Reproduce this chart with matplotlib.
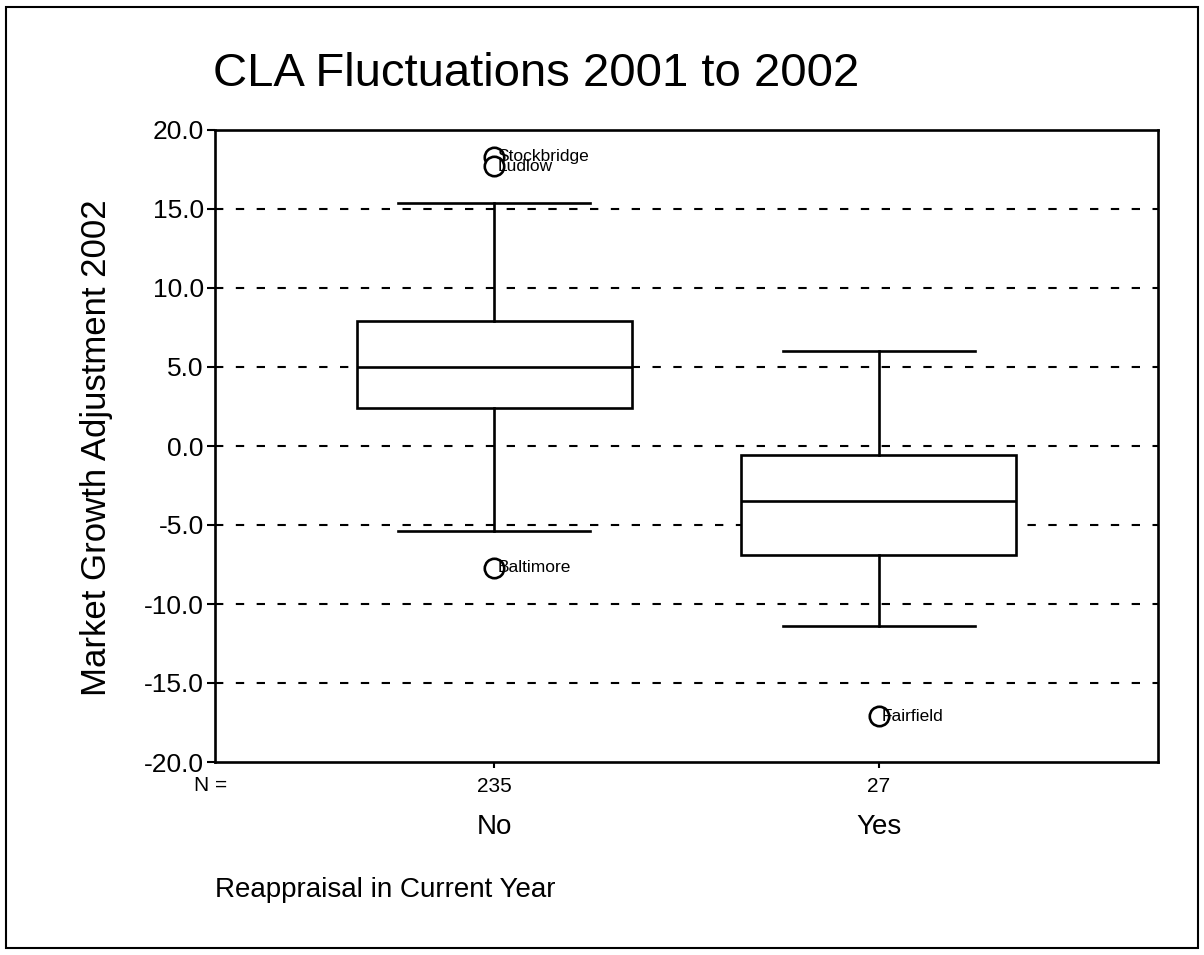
import matplotlib
matplotlib.use('Agg')
import matplotlib.pyplot as plt
from matplotlib.patches import Rectangle
from matplotlib import transforms

plt.rcParams['font.family'] = ['Liberation Sans', 'DejaVu Sans']

# Data
groups = ['No', 'Yes']
counts = [235, 27]
q1 = [2.4, -6.9]
medians = [5.0, -3.5]
q3 = [7.9, -0.6]
whisker_low = [-5.4, -11.4]
whisker_high = [15.4, 6.0]
outlier_names = [['Stockbridge', 'Ludlow', 'Baltimore'], ['Fairfield']]
outlier_values = [[18.3, 17.7, -7.7], [-17.1]]

yticks = [20.0, 15.0, 10.0, 5.0, 0.0, -5.0, -10.0, -15.0, -20.0]

fig = plt.figure(figsize=(12.04, 9.55), dpi=100)
ax = fig.add_axes([215 / 1204, 1 - 762 / 955, 943 / 1204, 632 / 955])

# Outer frame round the whole figure
fig.patches.append(Rectangle((6 / 1204, 7 / 955), 1192 / 1204, 941 / 955,
                             transform=fig.transFigure, fill=False,
                             edgecolor='black', linewidth=1.5))

positions = [1, 2]
stats = []
for i in range(len(groups)):
    stats.append({'med': medians[i], 'q1': q1[i], 'q3': q3[i],
                  'whislo': whisker_low[i], 'whishi': whisker_high[i],
                  'fliers': [], 'label': groups[i]})

lw = 1.9
ax.bxp(stats, positions=positions, widths=0.715, capwidths=0.5,
       patch_artist=True, showfliers=False,
       boxprops=dict(facecolor='white', edgecolor='black', linewidth=lw),
       medianprops=dict(color='black', linewidth=lw),
       whiskerprops=dict(color='black', linewidth=lw),
       capprops=dict(color='black', linewidth=lw), zorder=3)

# Outliers with their labels (Stockbridge and Ludlow overlap as in the original)
for i in range(len(groups)):
    for name, val in zip(outlier_names[i], outlier_values[i]):
        ax.plot(positions[i], val, marker='o', markersize=14, mfc='white',
                mec='black', mew=1.9, zorder=4, clip_on=False)
        ax.annotate(name, (positions[i], val), xytext=(2, 0),
                    textcoords='offset points', ha='left', va='center',
                    fontsize=12.5, zorder=5)

ax.set_xlim(0.273, 2.727)
ax.set_ylim(-20, 20)

# Dashed reference lines
for y in yticks[1:-1]:
    ax.axhline(y, color='black', linewidth=1.5, linestyle=(0, (4, 6)), zorder=1)

ax.set_yticks(yticks)
ax.set_yticklabels(['%.1f' % v for v in yticks], fontsize=19)
ax.tick_params(axis='y', length=6, width=1.5, pad=2)

ax.set_xticks(positions)
ax.set_xticklabels([str(c) for c in counts], fontsize=15)
ax.tick_params(axis='x', length=4, width=1.5, pad=7)

for side in ['left', 'right', 'top', 'bottom']:
    ax.spines[side].set_linewidth(1.9)

trans = transforms.blended_transform_factory(ax.transData, fig.transFigure)
for pos, g in zip(positions, groups):
    ax.text(pos, 1 - 827 / 955, g, transform=trans, ha='center', va='center',
            fontsize=20)

fig.text(211 / 1204, 1 - 785 / 955, 'N =', ha='center', va='center', fontsize=15)

fig.text(97 / 1204, 1 - 448 / 955, 'Market Growth Adjustment 2002',
         rotation=90, ha='center', va='center', fontsize=25)

fig.text(215 / 1204, 1 - 890 / 955, 'Reappraisal in Current Year',
         ha='left', va='center', fontsize=20)

fig.text(213 / 1204, 1 - 86 / 955, 'CLA Fluctuations 2001 to 2002',
         ha='left', va='baseline', fontsize=34)

fig.savefig('out.png', dpi=100)
